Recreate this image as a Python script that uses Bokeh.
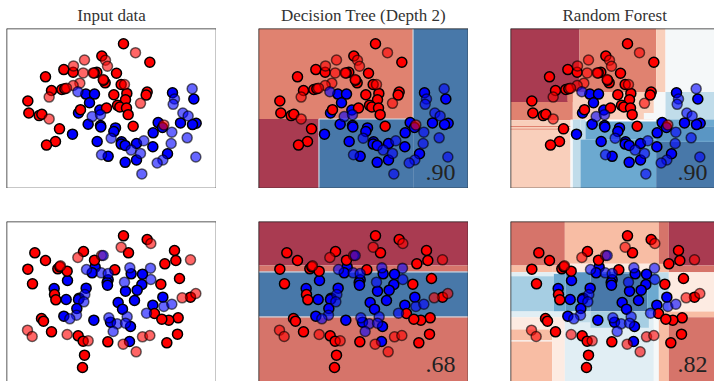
from bokeh.plotting import figure
from bokeh.layouts import column, row
from bokeh.models import Span, Range1d
from bokeh.core.properties import value
from bokeh.embed import file_html
from bokeh.resources import INLINE

titles = ["Input data", "Decision Tree (Depth 2)", "Random Forest"]
scores_top = [".90", ".90"]
scores_bottom = [".68", ".82"]

# --- points, top row (picture units: 3 per pixel)
top_red_train_x = [369,448,304,190,218,135,289,281,348,314,309,362,153,184,193,379,340,440,437,82,375,85,116,124,240,318,351,358,378,383,177,398,165,138]
top_red_train_y = [127,183,164,205,213,227,213,215,216,245,237,250,268,265,263,277,281,273,282,300,296,336,344,340,326,321,313,318,321,341,384,376,422,433]
top_red_test_x = [405,252,315,321,219,248,278,308,372,238,218,198,146,420,146,490]
top_red_test_y = [154,176,177,195,194,215,215,235,250,246,253,261,288,307,354,372]
top_blue_train_x = [256,282,267,516,580,234,298,300,263,301,345,340,473,540,587,576,486,458,216,290,363,362,374,408,457,501,323,408,374]
top_blue_train_y = [279,279,305,275,294,336,327,374,370,378,381,392,365,366,367,371,380,396,400,422,423,430,434,428,438,459,467,478,485]
top_blue_test_x = [232,575,522,518,547,563,275,300,514,560,332,430,512,392,420,303,586,487,470,424]
top_blue_test_y = [272,263,294,310,336,345,347,341,394,411,412,420,428,448,458,462,469,478,487,520]

# --- points, bottom row
bot_red_train_x = [369,440,103,249,384,522,135,282,526,493,82,172,178,200,343,537,96,481,162,166,570,462,533,505,484,123,129,153,233,248,322,531,499,252,246]
bot_red_train_y = [76,87,127,123,127,120,150,149,150,160,176,175,169,182,178,204,220,221,252,268,260,309,322,329,326,324,332,364,376,392,394,371,397,434,471]
bot_red_test_x = [451,362,232,303,180,570,586,545,81,95,200,263,368,426,448,407]
bot_red_test_y = [99,110,141,135,166,148,249,262,359,378,372,391,401,379,375,424]
bot_blue_train_x = [284,275,392,426,201,323,320,321,424,410,375,161,257,197,236,234,402,487,353,457,366,229,190,280,330,390,387]
bot_blue_train_y = [170,187,190,191,210,208,216,224,222,239,242,234,233,267,263,267,270,260,276,284,296,294,317,329,335,348,393]
bot_blue_test_x = [258,388,450,302,323,451,372,253,250,490,514,438,228,208,325,380,350,375,338,308]
bot_blue_test_y = [177,172,173,187,189,207,215,252,274,288,281,308,314,325,322,319,340,338,363,135]

# --- colours of the decision surfaces
DARK_RED = "#A93B51"
SALMON = "#E08270"
ROSE = "#D6746A"
PEACH = "#F9CFBB"
PEACH2 = "#F8BDA4"
CREAM = "#FDEBE2"
WHITE = "#F5F8F9"
PALE = "#E1EEF4"
LIGHT = "#C0DCEA"
SKY = "#A6CEE3"
MID = "#6CA9D0"
MID2 = "#5A96C4"
DARK = "#4878A9"
LINE = "#D5DEE8"

# x0, y0, x1, y1, colour
tree_top = [
    (18,81,482,354,SALMON),(482,81,648,564,DARK),(18,354,199,564,DARK_RED),(199,354,482,564,DARK),
    (480,81,483,354,LINE),(199,353,482,356,LINE),(198,354,201,564,LINE),
]
tree_bottom = [
    (18,33,648,165,DARK_RED),(18,165,648,184,ROSE),(18,184,648,319,DARK),(18,319,648,513,ROSE),
    (18,183,648,186,LINE),(18,318,648,321,LINE),
]
forest_top = [
    (18,81,225,303,DARK_RED),(189,266,225,303,SALMON),(225,81,455,273,SALMON),(18,303,205,358,SALMON),(189,273,225,300,SALMON),
    (455,81,483,273,PEACH),(483,81,630,273,WHITE),
    (205,273,448,356,PEACH),(448,273,483,356,WHITE),(418,336,483,356,WHITE),
    (483,273,630,356,LIGHT),
    (18,358,198,564,PEACH),(18,375,198,378,SALMON),(18,384,198,386,SALMON),
    (198,356,205,564,WHITE),(205,356,228,564,LIGHT),(228,356,243,416,LIGHT),
    (228,416,455,564,MID),(243,362,455,416,MID),
    (455,356,630,376,MID),(455,376,630,421,MID2),(455,421,630,564,DARK),(455,420,630,423,MID),
]
forest_bottom = [
    (18,33,181,165,ROSE),(181,33,463,160,PEACH2),(463,33,493,165,ROSE),(493,33,630,165,DARK_RED),
    (18,165,143,185,PEACH2),(143,165,181,185,PEACH2),(181,160,463,185,CREAM),(463,160,493,185,PEACH2),(493,165,630,185,ROSE),
    (18,185,148,197,PALE),(18,197,148,303,SKY),(148,190,183,303,MID),(183,185,258,303,MID2),(258,190,428,303,DARK),(258,185,428,190,MID2),(428,190,463,303,MID),(428,185,463,190,LIGHT),(463,185,493,303,LIGHT),(493,185,630,303,CREAM),
    (18,303,181,320,PALE),(18,320,181,357,CREAM),(18,357,143,390,PEACH2),(18,390,143,393,WHITE),(18,393,143,513,PEACH2),(143,357,181,513,CREAM),
    (181,303,448,513,PALE),(181,303,258,335,LIGHT),(258,303,433,352,SKY),(448,303,463,513,WHITE),
    (463,303,493,513,PEACH2),(493,303,630,320,PEACH2),(493,320,630,513,ROSE),
]


def panel(width, height, left, top, xr, yr, title, regions, red, blue, score, right_edge, bottom_edge):
    p = figure(width=width, height=height, x_range=Range1d(*xr), y_range=Range1d(yr[1], yr[0]),
               output_backend="svg", toolbar_location=None,
               x_axis_location=None, y_axis_location=None,
               min_border_left=left, min_border_top=top, min_border_right=0, min_border_bottom=0,
               background_fill_color="white", border_fill_color="white", outline_line_color=None)
    p.grid.visible = False
    if title:
        p.title.text = title
        p.title.align = "center" if right_edge else "left"
        if not right_edge:
            p.title.offset = 52
        p.title.text_font = "Liberation Serif"
        p.title.text_font_size = "17px"
        p.title.text_font_style = "normal"
        p.title.text_color = "#333333"
        p.title.standoff = 7
    if regions:
        p.quad(left=[r[0] for r in regions], top=[r[1] for r in regions],
               right=[r[2] for r in regions], bottom=[r[3] for r in regions],
               fill_color=[r[4] for r in regions], line_color=None)
    rtx, rty, rex, rey = red
    btx, bty, bex, bey = blue
    p.scatter(btx, bty, size=10, fill_color="#0000FF", line_color="black", line_width=1.5)
    p.scatter(rtx, rty, size=10, fill_color="#FF0000", line_color="black", line_width=1.5)
    p.scatter(rex, rey, size=10, fill_color="#FF0000", line_color="black", line_width=1.5, fill_alpha=0.6, line_alpha=0.6)
    p.scatter(bex, bey, size=10, fill_color="#0000FF", line_color="black", line_width=1.5, fill_alpha=0.6, line_alpha=0.6)
    edges = [Span(location=xr[0], dimension="height"), Span(location=yr[0], dimension="width")]
    if right_edge:
        edges.append(Span(location=xr[1], dimension="height"))
    if bottom_edge:
        edges.append(Span(location=yr[1], dimension="width"))
    for s in edges:
        s.line_color = "#222222"
        s.line_width = 1.5
        p.add_layout(s)
    if score:
        p.text([609], [515 if bottom_edge else 463], text=[score], text_align="right", text_baseline="alphabetic",
               text_font=value("Liberation Serif"), text_font_size="24px", text_color="#222222")
    return p


red_top = (top_red_train_x, top_red_train_y, top_red_test_x, top_red_test_y)
blue_top = (top_blue_train_x, top_blue_train_y, top_blue_test_x, top_blue_test_y)
red_bot = (bot_red_train_x, bot_red_train_y, bot_red_test_x, bot_red_test_y)
blue_bot = (bot_blue_train_x, bot_blue_train_y, bot_blue_test_x, bot_blue_test_y)

ytop = (81, 564)
ybot = (33, 513)
a = panel(216, 188, 6, 27, (18, 648), ytop, titles[0], None, red_top, blue_top, None, True, True)
b = panel(252, 188, 42, 27, (18, 648), ytop, titles[1], tree_top, red_top, blue_top, scores_top[0], True, True)
c = panel(246, 188, 42, 27, (18, 630), ytop, titles[2], forest_top, red_top, blue_top, scores_top[1], False, True)
d = panel(216, 193, 6, 33, (18, 648), ybot, None, None, red_bot, blue_bot, None, True, False)
e = panel(252, 193, 42, 33, (18, 648), ybot, None, tree_bottom, red_bot, blue_bot, scores_bottom[0], True, False)
f = panel(246, 193, 42, 33, (18, 630), ybot, None, forest_bottom, red_bot, blue_bot, scores_bottom[1], False, False)

layout = column(row(a, b, c, spacing=0), row(d, e, f, spacing=0), spacing=0, margin=(0, 0, 0, 0))
open("out.html", "w").write(file_html(layout, INLINE))
